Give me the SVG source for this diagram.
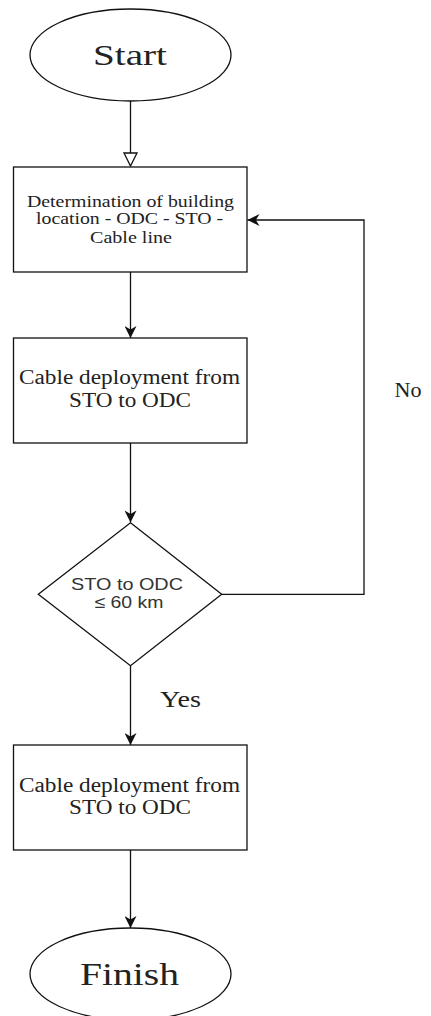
<svg xmlns="http://www.w3.org/2000/svg" width="431" height="1016" viewBox="0 0 431 1016">
<style>
.shape{fill:#fff;stroke:#111;stroke-width:1.3}
.edge{fill:none;stroke:#111;stroke-width:1.3}
.serif{font-family:"Liberation Serif","Times New Roman",serif;fill:#222;text-anchor:middle}
.sans{font-family:"Liberation Sans",Arial,sans-serif;fill:#333;text-anchor:middle}
</style>
<defs>
<marker id="arr" viewBox="0 0 10 10" refX="10" refY="5" markerWidth="13" markerHeight="12" markerUnits="userSpaceOnUse" orient="auto">
<path d="M0,0 L10,5 L0,10 L3,5 Z" fill="#111"/>
</marker>
<marker id="open" viewBox="-1 -1 12 12" refX="0" refY="5" markerWidth="15.6" markerHeight="18" markerUnits="userSpaceOnUse" orient="auto">
<path d="M0,0 L10,5 L0,10 Z" fill="#fff" stroke="#111" stroke-width="1"/>
</marker>
</defs>
<rect width="431" height="1016" fill="#fff"/>
<g id="connectors">
<path class="edge" d="M130.5,101 V153" marker-end="url(#open)"/>
<path class="edge" d="M130.5,272 V338" marker-end="url(#arr)"/>
<path class="edge" d="M130.5,443 V522.5" marker-end="url(#arr)"/>
<path class="edge" d="M221.7,594.3 H364 V220 H247.5" marker-end="url(#arr)"/>
<path class="edge" d="M130.5,666 V745" marker-end="url(#arr)"/>
<path class="edge" d="M130.5,850 V928" marker-end="url(#arr)"/>
</g>
<g id="label-no"><text class="serif" x="408" y="396.7" font-size="20" textLength="27" lengthAdjust="spacingAndGlyphs">No</text></g>
<g id="label-yes"><text class="serif" x="180.5" y="706.7" font-size="23" textLength="41" lengthAdjust="spacingAndGlyphs">Yes</text></g>
<g id="start">
<ellipse class="shape" cx="130.5" cy="55" rx="100.5" ry="46"/>
<text class="serif" x="130" y="65" font-size="30" textLength="74" lengthAdjust="spacingAndGlyphs">Start</text>
</g>
<g id="determination">
<rect class="shape" x="13.5" y="167" width="233.5" height="105"/>
<text class="serif" x="130.5" y="206.7" font-size="16.5" textLength="207" lengthAdjust="spacingAndGlyphs">Determination of building</text>
<text class="serif" x="129.5" y="224.3" font-size="16.5" textLength="187" lengthAdjust="spacingAndGlyphs">location - ODC - STO -</text>
<text class="serif" x="131" y="243.3" font-size="16.5" textLength="82" lengthAdjust="spacingAndGlyphs">Cable line</text>
</g>
<g id="deploy1">
<rect class="shape" x="13.5" y="338" width="233.5" height="105"/>
<text class="serif" x="129.5" y="384.3" font-size="20" textLength="221" lengthAdjust="spacingAndGlyphs">Cable deployment from</text>
<text class="serif" x="130" y="406.7" font-size="20" textLength="122" lengthAdjust="spacingAndGlyphs">STO to ODC</text>
</g>
<g id="decision">
<path class="shape" d="M130.5,522.7 L221.7,594.3 L130.5,665.8 L38.3,594.3 Z"/>
<text class="sans" x="127" y="590" font-size="17" textLength="112" lengthAdjust="spacingAndGlyphs">STO to ODC</text>
<text class="sans" x="129" y="608.3" font-size="17" textLength="69" lengthAdjust="spacingAndGlyphs">≤ 60 km</text>
</g>
<g id="deploy2">
<rect class="shape" x="13.5" y="745" width="233.5" height="105"/>
<text class="serif" x="129.5" y="791.7" font-size="20" textLength="221" lengthAdjust="spacingAndGlyphs">Cable deployment from</text>
<text class="serif" x="130" y="814" font-size="20" textLength="122" lengthAdjust="spacingAndGlyphs">STO to ODC</text>
</g>
<g id="finish">
<ellipse class="shape" cx="130.5" cy="974" rx="100.5" ry="46"/>
<text class="serif" x="129.5" y="985" font-size="31" textLength="99" lengthAdjust="spacingAndGlyphs">Finish</text>
</g>
</svg>
